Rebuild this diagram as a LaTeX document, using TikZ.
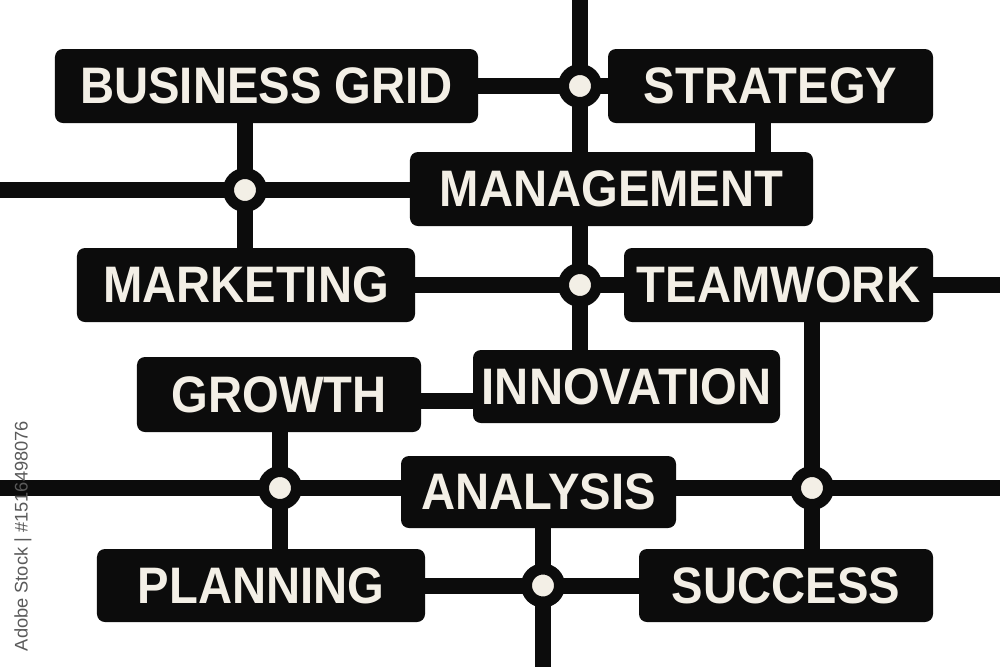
\documentclass[tikz,border=0pt]{standalone}
\usepackage{fontspec}
\setmainfont{Liberation Sans}
\newfontfamily\tagfont[FakeStretch=0.92]{Liberation Sans}
\usetikzlibrary{calc,backgrounds}
\definecolor{boxblack}{HTML}{0C0C0C}
\definecolor{cream}{HTML}{F3EFE6}
\definecolor{wmgray}{HTML}{5A5A5A}
\begin{document}
\begin{tikzpicture}[x=0.25mm,y=-0.25mm,
  wire/.style={line width=4mm,draw=boxblack},
  tag/.style={rectangle,rounded corners=2mm,fill=boxblack,text=cream,inner sep=0pt,
    font=\tagfont\fontsize{36.5}{36.5}\selectfont\bfseries},
  junction/.style={circle,draw=boxblack,line width=2.75mm,fill=cream,inner sep=0pt,minimum size=8.25mm}]
\useasboundingbox (0,0) rectangle (1000,667);

% boxes
\node[tag,minimum width=105.75mm,minimum height=18.5mm] (bg)   at (266.5,86)  {BUSINESS GRID};
\node[tag,minimum width=81.25mm, minimum height=18.5mm] (str)  at (770.5,86)  {STRATEGY};
\node[tag,minimum width=100.75mm,minimum height=18.5mm] (mgmt) at (611.5,189) {MANAGEMENT};
\node[tag,minimum width=84.5mm,  minimum height=18.5mm] (mkt)  at (246,285)   {MARKETING};
\node[tag,minimum width=77.25mm, minimum height=18.5mm] (team) at (778.5,285) {TEAMWORK};
\node[tag,minimum width=71mm,    minimum height=18.75mm] (grow) at (279,394.5) {GROWTH};
\node[tag,minimum width=76.75mm, minimum height=18.25mm] (inn)  at (626.5,386.5) {INNOVATION};
\node[tag,minimum width=68.75mm, minimum height=18mm] (ana)  at (538.5,492) {ANALYSIS};
\node[tag,minimum width=82mm,    minimum height=18.25mm] (plan) at (261,585.5) {PLANNING};
\node[tag,minimum width=73.5mm,  minimum height=18.25mm] (succ) at (786,585.5) {SUCCESS};

% junctions
\node[junction] (j1) at (580,86) {};
\node[junction] (j2) at (245,190) {};
\node[junction] (j3) at (580,285) {};
\node[junction] (j4) at (280,488) {};
\node[junction] (j5) at (812,488) {};
\node[junction] (j6) at (543,585.5) {};

% free ends
\coordinate (t1) at (580,0);
\coordinate (l1) at (0,190);
\coordinate (r1) at (1000,285);
\coordinate (l2) at (0,488);
\coordinate (r2) at (1000,488);
\coordinate (b1) at (543,667);

% connectors behind boxes and junctions
\begin{scope}[on background layer]
\fill[white] (0,0) rectangle (1000,667);
\draw[wire] (t1) -- (j1.center) -- (j3.center) -- (j3 |- inn.north);
\draw[wire] (bg.east) -- (j1.center) -- (str.west);
\draw[wire] ([xshift=-2mm]str.south) -- ([xshift=-2mm]str.south |- mgmt.north);
\draw[wire] (j2 |- bg.south) -- (j2.center) -- (j2 |- mkt.north);
\draw[wire] (l1) -- (j2.center) -- (j2 -| mgmt.west);
\draw[wire] (mkt.east) -- (j3.center) -- (team.west);
\draw[wire] (team.east) -- (r1);
\draw[wire] (j5 |- team.south) -- (j5.center) -- (j5 |- succ.north);
\draw[wire] ([yshift=-1.5mm]grow.east) -- ([yshift=-1.5mm]grow.east -| inn.west);
\draw[wire] (j4 |- grow.south) -- (j4.center) -- (j4 |- plan.north);
\draw[wire] (l2) -- (j4.center) -- (j4 -| ana.west);
\draw[wire] (j5 -| ana.east) -- (j5.center) -- (r2);
\draw[wire] (j6 |- ana.south) -- (j6.center) -- (b1);
\draw[wire] (plan.east) -- (j6.center) -- (succ.west);
\end{scope}

% side credit
\node[rotate=90,text=wmgray,inner sep=0pt,font=\fontsize{13}{13}\selectfont] (credit) at (23,536) {Adobe Stock | \#1516498076};
\end{tikzpicture}
\end{document}
